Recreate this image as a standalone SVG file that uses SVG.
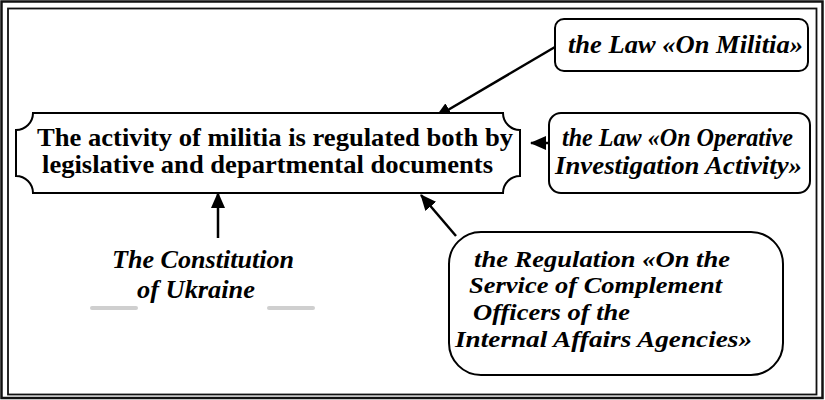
<svg xmlns="http://www.w3.org/2000/svg" width="825" height="400" viewBox="0 0 825 400">
<defs>
<style>
.frame{fill:none;stroke:#111;}
.box{fill:#fff;stroke:#000;stroke-width:2;}
.main{font-family:"Liberation Serif","Times New Roman",serif;font-weight:bold;font-size:25.5px;fill:#000;}
.it{font-family:"Liberation Serif","Times New Roman",serif;font-weight:bold;font-style:italic;font-size:24.5px;fill:#000;}
.it2{font-family:"Liberation Serif","Times New Roman",serif;font-weight:bold;font-style:italic;font-size:23.5px;fill:#000;}
.conn{stroke:#000;stroke-width:2.5;fill:none;marker-end:url(#ah);}
.gray{stroke:#cfcfcf;stroke-width:4;stroke-linecap:round;}
</style>
<marker id="ah" markerUnits="userSpaceOnUse" markerWidth="16" markerHeight="14" refX="15" refY="7" orient="auto">
<path d="M0,0 L16,7 L0,14 Z" fill="#000"/>
</marker>
</defs>
<rect class="frame" x="1.5" y="1.5" width="821" height="396.5" stroke-width="2.5"/>
<rect class="frame" x="8" y="8.5" width="808.5" height="386" stroke-width="1.8"/>

<g id="connectors">
<line class="conn" x1="555" y1="47" x2="436" y2="117"/>
<line class="conn" x1="553" y1="143" x2="531" y2="143"/>
<line class="conn" x1="456" y1="236" x2="421" y2="195"/>
<line class="conn" x1="218" y1="238" x2="218" y2="193"/>
</g>

<g id="main">
<path class="box" d="M33,113 L503,113 A17,17 0 0 0 520,130 L520,176 A17,17 0 0 0 503,193 L33,193 A17,17 0 0 0 16,176 L16,130 A17,17 0 0 0 33,113 Z"/>
<text class="main" x="37" y="146" textLength="476" lengthAdjust="spacingAndGlyphs">The activity of militia is regulated both by</text>
<text class="main" x="42" y="173" textLength="451" lengthAdjust="spacingAndGlyphs">legislative and departmental documents</text>
</g>

<g id="law-militia">
<rect class="box" x="555" y="19" width="253" height="52" rx="9"/>
<text class="it" x="568" y="53" textLength="235" lengthAdjust="spacingAndGlyphs">the Law «On Militia»</text>
</g>

<g id="law-operative">
<rect class="box" x="549" y="113" width="261" height="80" rx="12"/>
<text class="it" x="562" y="146" textLength="231" lengthAdjust="spacingAndGlyphs">the Law «On Operative</text>
<text class="it" x="555" y="174" textLength="247" lengthAdjust="spacingAndGlyphs">Investigation Activity»</text>
</g>

<g id="regulation">
<rect class="box" x="449" y="232" width="334" height="143" rx="32"/>
<text class="it2" x="474" y="267" textLength="256" lengthAdjust="spacingAndGlyphs">the Regulation «On the</text>
<text class="it2" x="469" y="293" textLength="253" lengthAdjust="spacingAndGlyphs">Service of Complement</text>
<text class="it2" x="473" y="320" textLength="157" lengthAdjust="spacingAndGlyphs">Officers of the</text>
<text class="it2" x="455" y="347" textLength="297" lengthAdjust="spacingAndGlyphs">Internal Affairs Agencies»</text>
</g>

<g id="constitution">
<text class="it" x="112" y="268" textLength="182" lengthAdjust="spacingAndGlyphs">The Constitution</text>
<text class="it" x="137" y="298" textLength="118" lengthAdjust="spacingAndGlyphs">of Ukraine</text>
<line class="gray" x1="92" y1="308" x2="136" y2="308"/>
<line class="gray" x1="269" y1="308" x2="313" y2="308"/>
</g>
</svg>
